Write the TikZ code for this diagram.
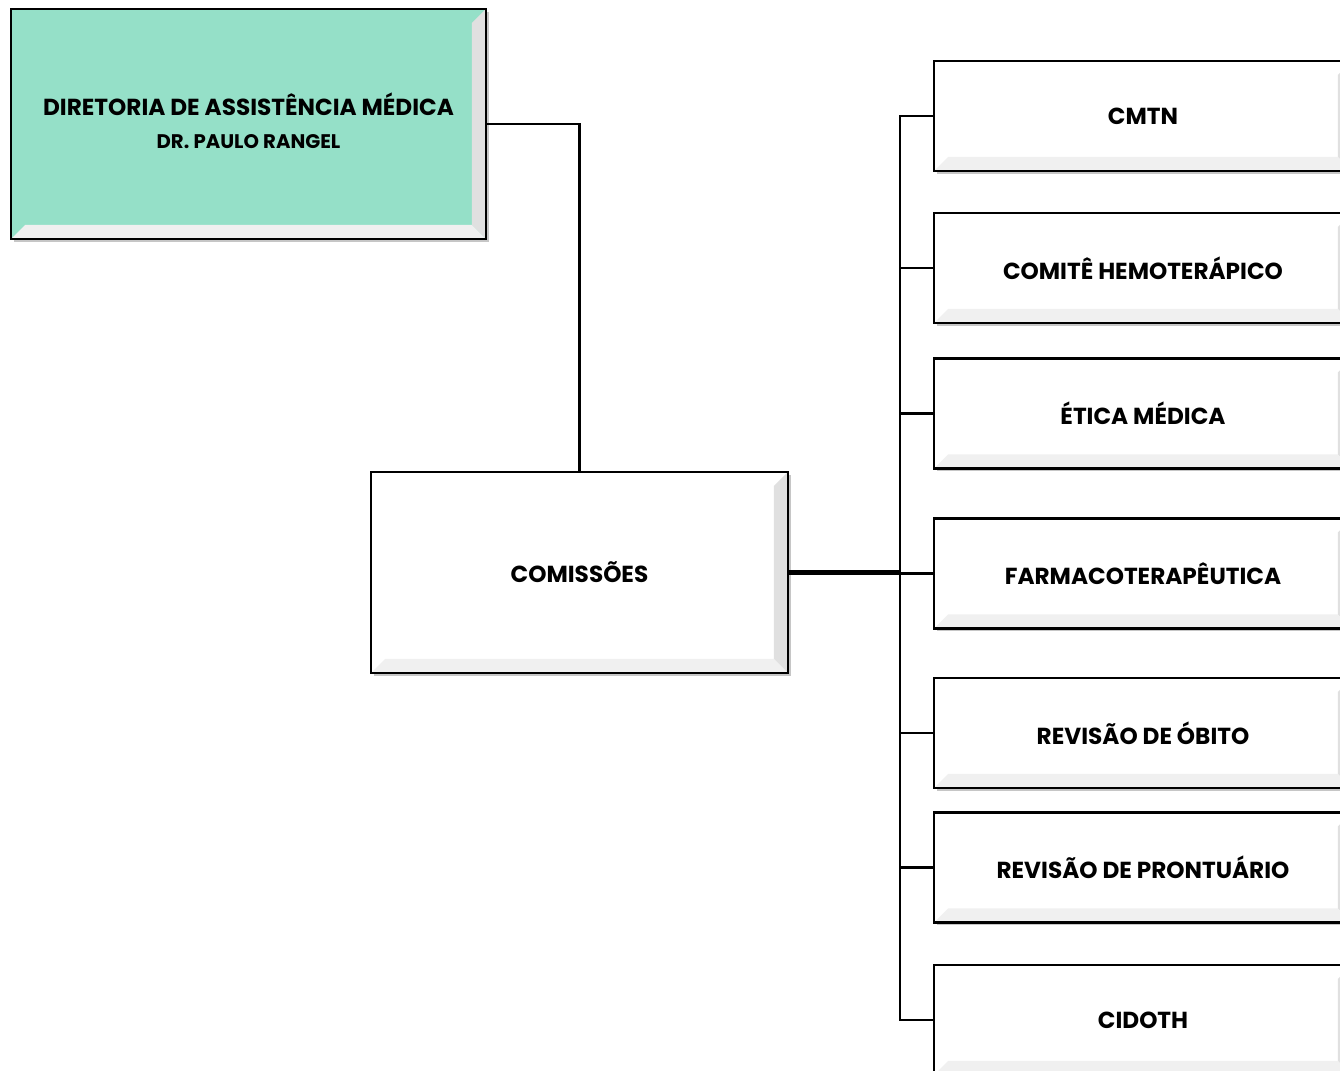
\documentclass[tikz,border=0pt]{standalone}
\usepackage{fontspec}
\setmainfont{Poppins}
\usetikzlibrary{positioning,shadows}
\definecolor{mint}{HTML}{95E0C8}

\begin{document}
\begin{tikzpicture}[x=0.02cm, y=-0.02cm,
    box_style/.style={rectangle, draw=black, line width=1.3pt, align=center, inner sep=2pt,
        font=\bfseries\fontsize{13.2}{16}\selectfont,
        drop shadow={shadow xshift=1.5pt, shadow yshift=-1.5pt, opacity=.45},
        path picture={
            \fill[black!12] (path picture bounding box.north east) -- (path picture bounding box.south east)
                -- ([shift={(-0.28cm,0.28cm)}]path picture bounding box.south east)
                -- ([shift={(-0.28cm,-0.28cm)}]path picture bounding box.north east) -- cycle;
            \fill[black!6] (path picture bounding box.south west) -- (path picture bounding box.south east)
                -- ([shift={(-0.28cm,0.28cm)}]path picture bounding box.south east)
                -- ([shift={(0.28cm,0.28cm)}]path picture bounding box.south west) -- cycle;}},
    head_style/.style={box_style, fill=mint, minimum width=9.5cm, minimum height=4.6cm, text depth=4pt},
    group_style/.style={box_style, fill=white, minimum width=8.34cm, minimum height=4.02cm},
    item_style/.style={box_style, fill=white, minimum width=8.36cm, minimum height=2.2cm},
    edge_style/.style={draw=black, line width=1.3pt},
    trunk_style/.style={draw=black, line width=2.6pt}]

    \useasboundingbox (0,0) rectangle (1340,1071);
    \clip (0,0) rectangle (1340,1071);

    \node[head_style] (dam) at (248.5,124) {DIRETORIA DE ASSISTÊNCIA MÉDICA\\[3pt]{\fontsize{11.2}{13}\selectfont DR. PAULO RANGEL}};
    \node[group_style] (com) at (579.5,572.5) {COMISSÕES};

    \node[item_style] (cmtn) at (1143,116) {CMTN};
    \node[item_style] (hemo) at (1143,268) {COMITÊ HEMOTERÁPICO};
    \node[item_style] (etica) at (1143,413.5) {ÉTICA MÉDICA};
    \node[item_style] (farma) at (1143,573.5) {FARMACOTERAPÊUTICA};
    \node[item_style] (obito) at (1143,733) {REVISÃO DE ÓBITO};
    \node[item_style] (pront) at (1143,867.5) {REVISÃO DE PRONTUÁRIO};
    \node[item_style] (cidoth) at (1143,1020) {CIDOTH};

    \coordinate (bus) at (900,572);

    \draw[edge_style] (dam.east) -| (com.north);
    \draw[trunk_style] (com.east) -- (com.east -| bus);

    \draw[edge_style] (cmtn.west) -- (cmtn.west -| bus) -- (cidoth.west -| bus) -- (cidoth.west);
    \foreach \n in {hemo, etica, farma, obito, pront}
        \draw[edge_style] (\n.west) -- (\n.west -| bus);
\end{tikzpicture}
\end{document}
